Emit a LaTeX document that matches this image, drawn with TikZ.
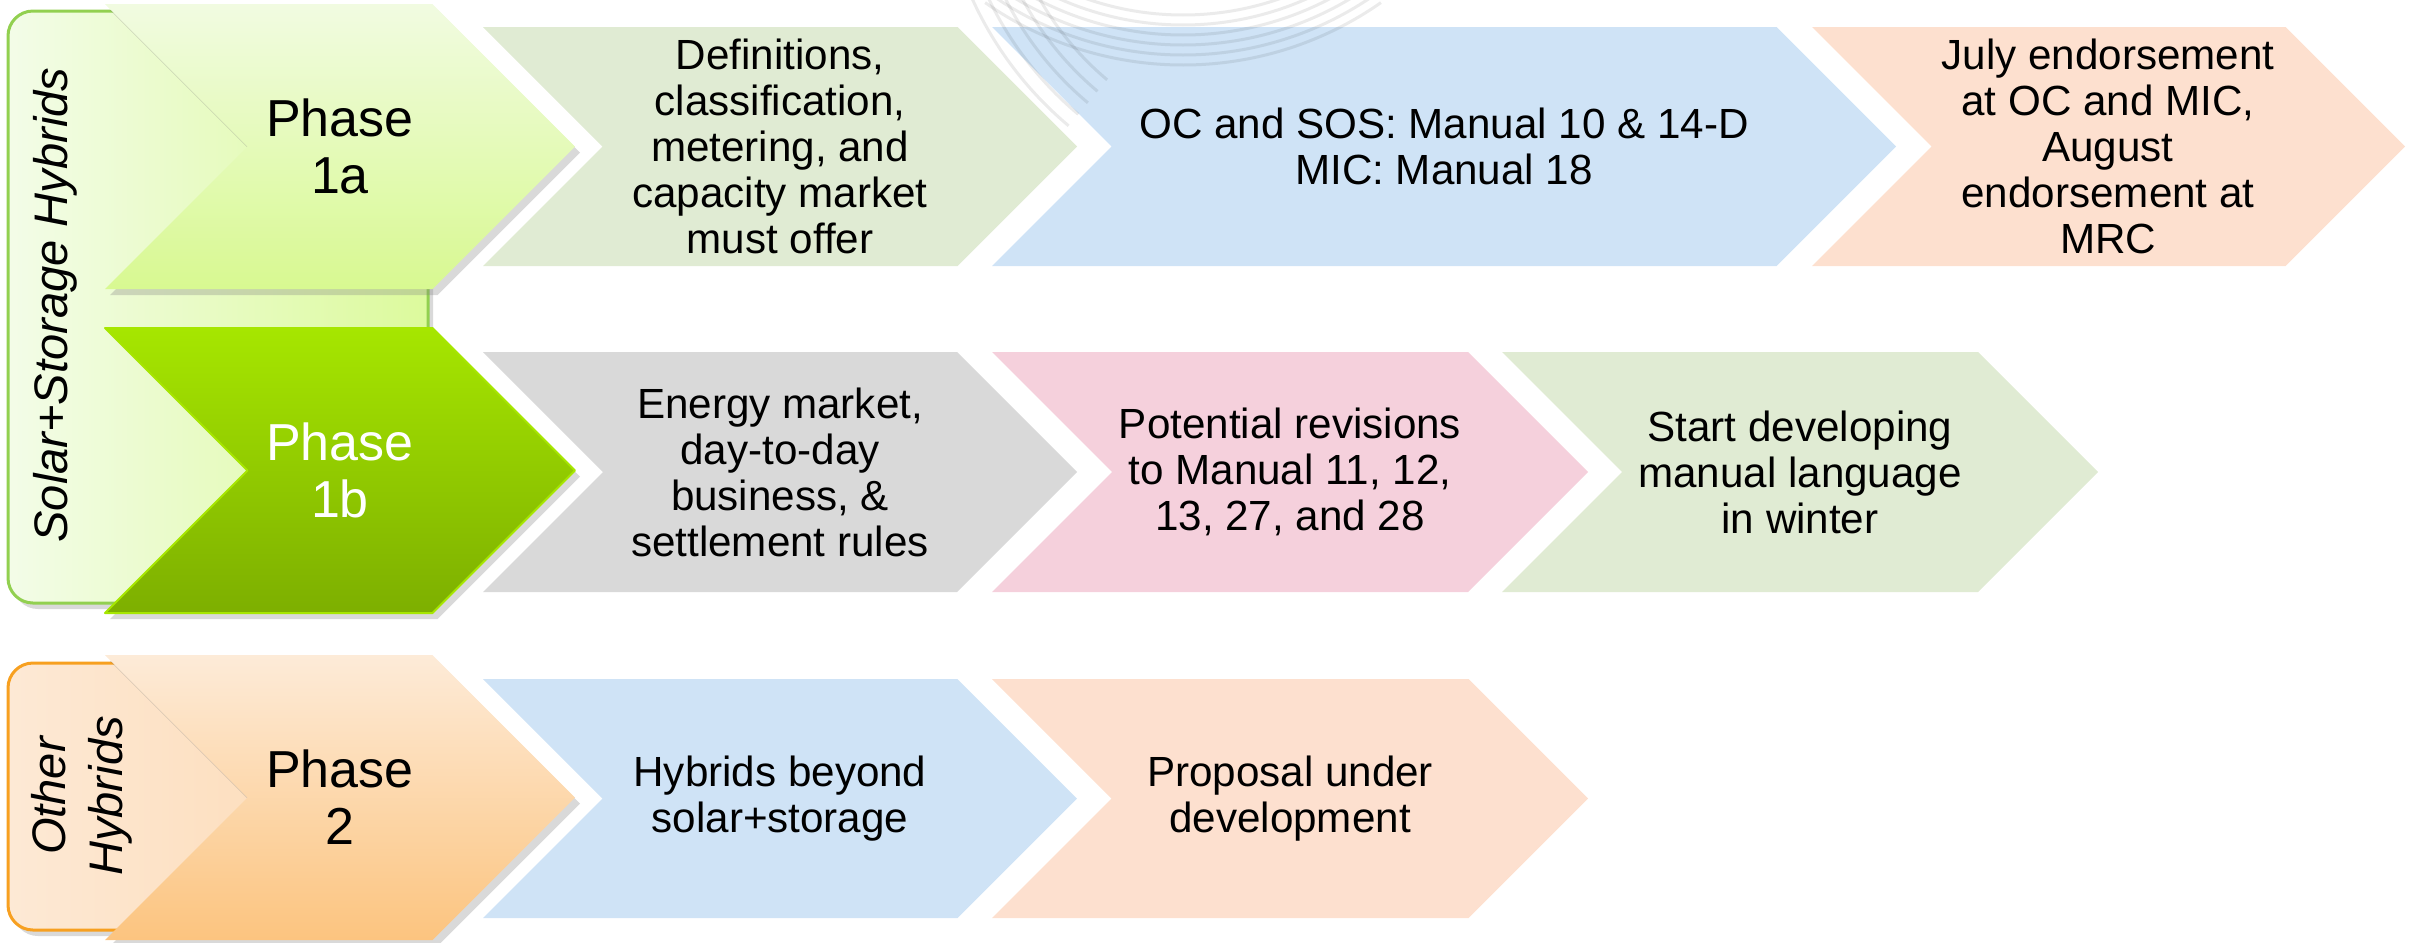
\documentclass[tikz,border=0pt]{standalone}
\usepackage{fontspec}
\setmainfont{Liberation Sans}
\usetikzlibrary{shadows}
\definecolor{ssedge}{HTML}{92D050}
\definecolor{ssleft}{HTML}{F3FCE8}
\definecolor{ssright}{HTML}{DCFA9C}
\definecolor{ohedge}{HTML}{F7A020}
\definecolor{ohleft}{HTML}{FDE9D5}
\definecolor{ohright}{HTML}{FDD8B0}
\definecolor{p1atop}{HTML}{F1FBE1}
\definecolor{p1abot}{HTML}{D8F991}
\definecolor{p1btop}{HTML}{A6E600}
\definecolor{p1bbot}{HTML}{7DAF00}
\definecolor{p2top}{HTML}{FDEBD8}
\definecolor{p2bot}{HTML}{FCC47F}
\definecolor{defgreen}{HTML}{E0EBD3}
\definecolor{ocblue}{HTML}{CFE3F6}
\definecolor{peach}{HTML}{FDE0CF}
\definecolor{engray}{HTML}{D9D9D9}
\definecolor{revpink}{HTML}{F5D0DC}
% chevron: options, left x, tip x, top y, bottom y
\newcommand{\chev}[5]{\path[#1] (#2,#4) -- ({#3-(#5-#4)/2},#4) -- (#3,{(#4+#5)/2})
  -- ({#3-(#5-#4)/2},#5) -- (#2,#5) -- ({#2+(#5-#4)/2},{(#4+#5)/2}) -- cycle;}

\begin{document}
\begin{tikzpicture}[x=0.1mm,y=-0.1mm,line join=round,
  desc/.style={font=\fontsize{12}{13.1}\selectfont,align=center},
  phase/.style={font=\fontsize{14.8}{16.2}\selectfont,align=center},
  group/.style={font=\fontsize{13.4}{16.4}\selectfont\itshape,align=center,rotate=90},
  shd/.style={drop shadow={shadow xshift=0.5mm,shadow yshift=-0.6mm,opacity=0.3}},
  wmark/.style={draw=black,opacity=0.08,line width=0.3mm}]
\useasboundingbox (0,0) rectangle (2415,942);

% group boxes
\draw[shd,rounded corners=2.5mm,draw=ssedge,line width=0.3mm,left color=ssleft,right color=ssright] (8,11) rectangle (428,603);
\draw[shd,rounded corners=2.5mm,draw=ohedge,line width=0.3mm,left color=ohleft,right color=ohright] (8,663) rectangle (428,930);

% phases
\chev{shd,top color=p1atop,bottom color=p1abot}{105}{575}{4}{289}
\chev{shd,top color=p1btop,bottom color=p1bbot,draw=p1btop,line width=0.2mm}{105}{575}{328}{613}
\chev{shd,top color=p2top,bottom color=p2bot}{105}{575}{655}{940}

\node[group] (ss) at (55,305) {Solar+Storage Hybrids};
\node[group] (oh) at (82,796) {Other\\Hybrids};
\node[phase] (p1a) at (340,146.5) {Phase\\1a};
\node[phase,text=white] (p1b) at (340,470.5) {Phase\\1b};
\node[phase] (p2) at (340,797.5) {Phase\\2};

% row 1
\chev{fill=defgreen}{483}{1077}{27}{266}
\chev{fill=ocblue}{992}{1896}{27}{266}
\chev{fill=peach}{1812}{2405}{27}{266}
\node[desc] (def) at (780,146.5) {Definitions,\\classification,\\metering, and\\capacity market\\must offer};
\node[desc] (oc) at (1444,146.5) {OC and SOS: Manual 10 \& 14-D\\MIC: Manual 18};
\node[desc] (jul) at (2108,146.5) {July endorsement\\at OC and MIC,\\August\\endorsement at\\MRC};

% row 2
\chev{fill=engray}{483}{1077}{352}{592}
\chev{fill=revpink}{992}{1588}{352}{592}
\chev{fill=defgreen}{1502}{2098}{352}{592}
\node[desc] (en) at (780,472) {Energy market,\\day-to-day\\business, \&\\settlement rules};
\node[desc] (rev) at (1290,472) {Potential revisions\\to Manual 11, 12,\\13, 27, and 28};
\node[desc] (dev) at (1800,472) {Start developing\\manual language\\in winter};

% row 3
\chev{fill=ocblue}{483}{1077}{679}{918}
\chev{fill=peach}{992}{1588}{679}{918}
\node[desc] (hyb) at (780,798.5) {Hybrids beyond\\solar+storage};
\node[desc] (prop) at (1290,798.5) {Proposal under\\development};

% faint background arcs
\foreach \r in {295,305,...,345}
  \draw[wmark] (1183,-280) ++(55:\r) arc (55:125:\r);
\foreach \r in {300,315,...,360}
  \draw[wmark] (1300,-150) ++(130:\r) arc (130:175:\r);
\end{tikzpicture}
\end{document}
